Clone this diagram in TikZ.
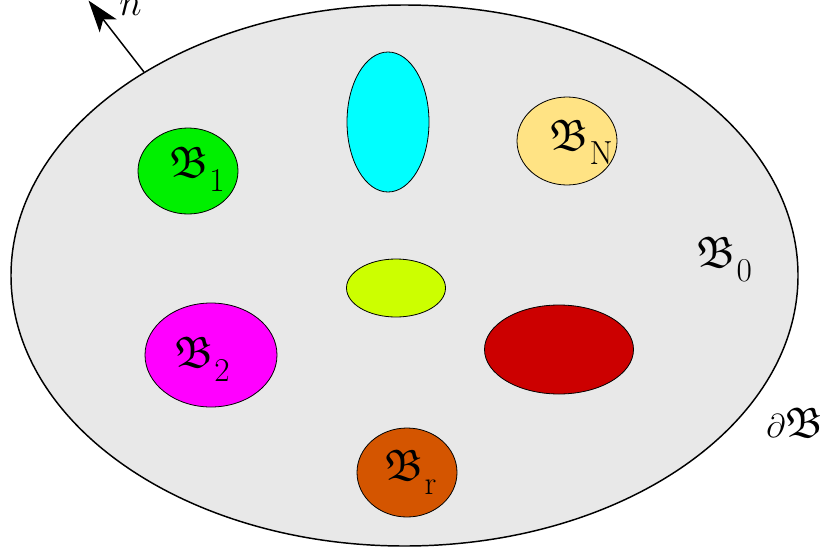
\documentclass[tikz,border=0pt]{standalone}
\usepackage{amssymb}
\usepackage{graphicx}
\usetikzlibrary{shapes.geometric,arrows.meta}
\definecolor{bodygray}{HTML}{E8E8E8}
\definecolor{cgreen}{HTML}{00F000}
\definecolor{cyellow}{HTML}{FFE384}
\definecolor{cmagenta}{HTML}{FF00FF}
\definecolor{cred}{HTML}{CC0000}
\definecolor{corange}{HTML}{D45500}
\definecolor{clime}{HTML}{CCFF00}
\definecolor{ccyan}{HTML}{00FFFF}
\newcommand{\frakB}{\fontsize{33}{36}\selectfont$\mathfrak{B}$}
\newcommand{\blab}[1]{\frakB\kern1pt\raisebox{-11pt}{\fontsize{25}{27}\selectfont #1}}
\tikzset{
  blob/.style={ellipse, draw=black, line width=0.6pt, inner sep=0pt},
  lab/.style={inner sep=0pt, anchor=base west},
}
\begin{document}
\begin{tikzpicture}[x=0.75pt,y=-0.75pt]
\useasboundingbox (0,0) rectangle (824,553);
\node[ellipse, draw=black, fill=bodygray, line width=1.1pt, minimum width=787*0.75pt, minimum height=541*0.75pt, inner sep=0pt] (big) at (404.5,275.5) {};
\node[blob, fill=ccyan, minimum width=82*0.75pt, minimum height=140*0.75pt] (cyan) at (388,122) {};
\node[blob, fill=cyellow, minimum width=100*0.75pt, minimum height=88*0.75pt] (bN) at (567,141) {};
\node[blob, fill=cgreen, minimum width=100*0.75pt, minimum height=86*0.75pt] (b1) at (188,171) {};
\node[blob, fill=clime, minimum width=99*0.75pt, minimum height=58*0.75pt] (lime) at (396,288) {};
\node[blob, fill=cmagenta, minimum width=132*0.75pt, minimum height=104*0.75pt] (b2) at (211,355) {};
\node[blob, fill=cred, minimum width=149*0.75pt, minimum height=89*0.75pt] (red) at (559,349.5) {};
\node[blob, fill=corange, minimum width=100*0.75pt, minimum height=89*0.75pt] (br) at (407,472.5) {};
\node[lab] (lN) at (549,150) {\blab{N}};
\node[lab] (l1) at (169,177) {\blab{1}};
\node[lab] (l2) at (174,367) {\blab{2}};
\node[lab] (lr) at (384,480) {\blab{r}};
\node[lab] (l0) at (696,267) {\blab{0}};
\node[lab] (ldb) at (766,437) {\fontsize{32}{36}\selectfont$\partial\mathfrak{B}$};
\coordinate (tip) at (88.5,0.5);
\draw[line width=1.1pt, -{Stealth[length=24pt,width=16pt,inset=6pt]}] (big.142) -- (tip);
\node[lab] (nlab) at (119,15) {\scalebox{1.15}{\fontsize{24.88}{28}\selectfont$n$}};
\end{tikzpicture}
\end{document}
